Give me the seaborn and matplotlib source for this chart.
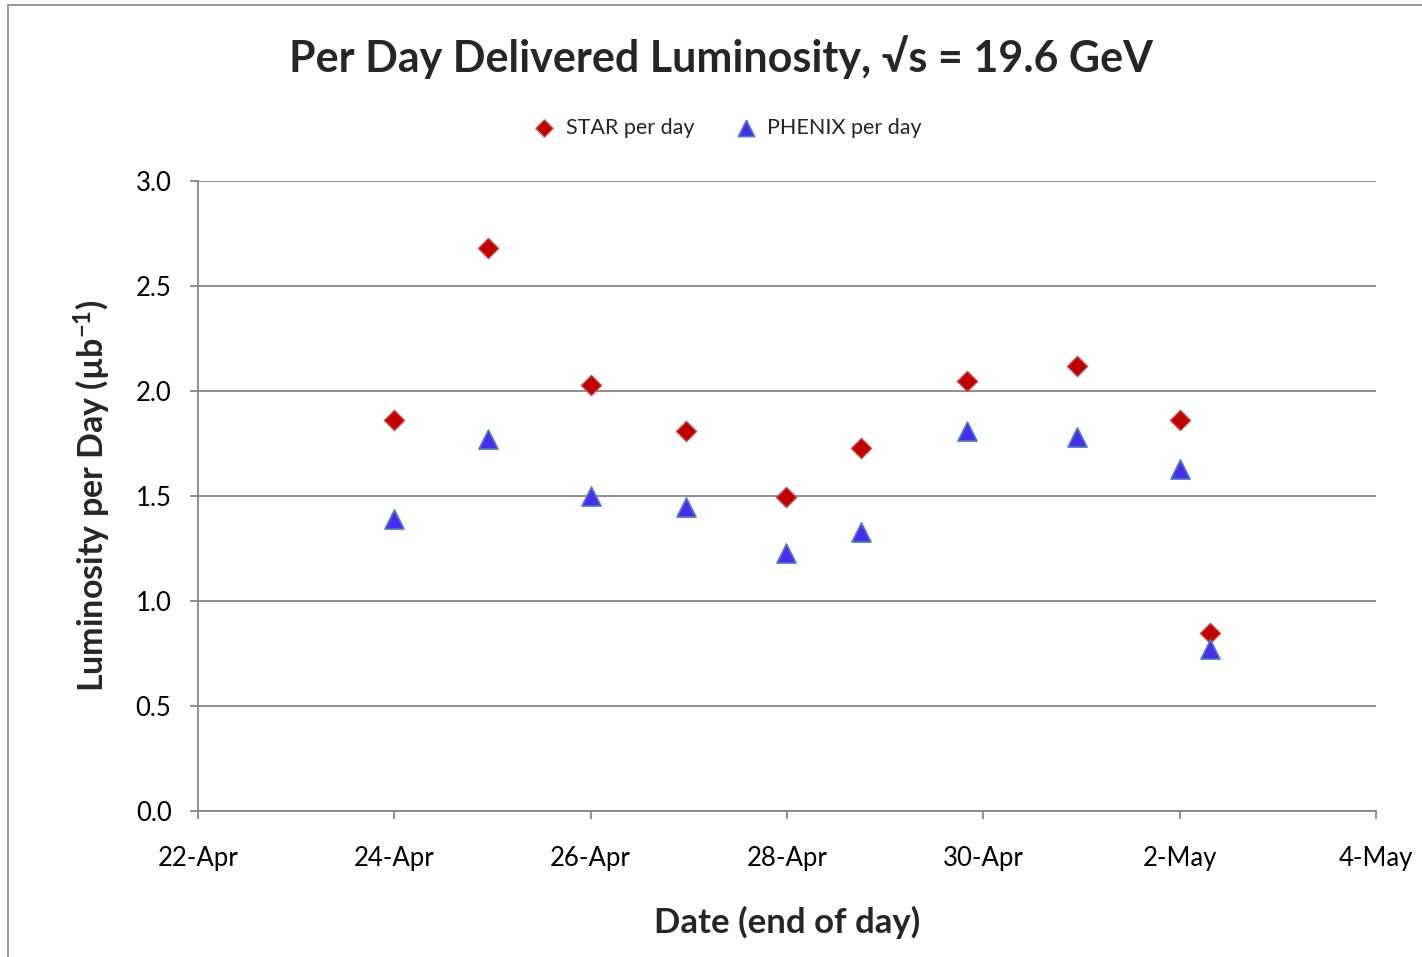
import seaborn as sns
import pandas as pd
import matplotlib.pyplot as plt
import matplotlib.dates as mdates
from matplotlib.patches import Rectangle

# Data (end-of-day timestamps)
dates = ['2011-04-24 00:00', '2011-04-24 23:00', '2011-04-26 00:00', '2011-04-26 23:15',
         '2011-04-27 23:45', '2011-04-28 18:00', '2011-04-29 20:00', '2011-04-30 23:00',
         '2011-05-02 00:00', '2011-05-02 07:30']
star = [1.86, 2.68, 2.03, 1.81, 1.495, 1.73, 2.05, 2.12, 1.86, 0.85]
phenix = [1.39, 1.77, 1.50, 1.45, 1.23, 1.33, 1.81, 1.78, 1.63, 0.77]

df = pd.DataFrame({'date': pd.to_datetime(dates), 'STAR per day': star, 'PHENIX per day': phenix})

sns.set_style('white')
plt.rcParams['font.family'] = ['Lato', 'DejaVu Sans']
plt.rcParams['mathtext.fontset'] = 'custom'
plt.rcParams['mathtext.rm'] = 'Lato:bold'
plt.rcParams['mathtext.default'] = 'regular'

fig = plt.figure(figsize=(14.22, 9.57), dpi=100)
ax = fig.add_axes([198 / 1422, 1 - 811 / 957, (1376 - 198) / 1422, (811 - 181) / 957])

sns.scatterplot(x='date', y='STAR per day', data=df, ax=ax, marker='D', s=105,
                color='#C00000', edgecolor='#C0504D', linewidth=1, label='STAR per day', zorder=3)
sns.scatterplot(x='date', y='PHENIX per day', data=df, ax=ax, marker='^', s=190,
                color='#4A2CEE', edgecolor='#4F81BD', linewidth=1.2, label='PHENIX per day', zorder=3)

# Axes limits and ticks
ax.set_xlim(pd.Timestamp('2011-04-22'), pd.Timestamp('2011-05-04'))
ax.set_ylim(0, 3.0)
ax.set_yticks([0.0, 0.5, 1.0, 1.5, 2.0, 2.5, 3.0])
ax.yaxis.set_major_formatter(plt.FormatStrFormatter('%.1f'))
ax.xaxis.set_major_locator(mdates.DayLocator(interval=2))
ax.xaxis.set_major_formatter(mdates.DateFormatter('%-d-%b'))

ax.grid(axis='y', color='#868686', linewidth=1.3)
ax.set_axisbelow(True)
for side in ['top', 'right']:
    ax.spines[side].set_visible(False)
for side in ['left', 'bottom']:
    ax.spines[side].set_color('#868686')
    ax.spines[side].set_linewidth(1.3)
ax.tick_params(axis='both', direction='out', length=6, width=1.3, color='#868686',
               labelsize=18.5, labelcolor='black', left=True, bottom=True)
ax.tick_params(axis='x', pad=19)
ax.tick_params(axis='y', pad=13)

ax.set_xlabel('Date (end of day)', fontsize=25, fontweight='bold', labelpad=25)
ax.set_ylabel('Luminosity per Day (µb$^{-1}$)', fontsize=24.5, fontweight='bold', labelpad=16)

ax.get_legend().remove()
fig.legend(loc='center', bbox_to_anchor=(0.508, 1 - 128 / 957), ncol=2, frameon=False,
           fontsize=15.5, handletextpad=0.0, columnspacing=1.4, markerscale=0.85)

fig.text(0.507, 1 - 57 / 957, 'Per Day Delivered Luminosity, \u221as = 19.6 GeV',
         ha='center', va='center', fontsize=31, fontweight='bold')

# Chart area border (left and top visible)
fig.patches.append(Rectangle((8 / 1422, -0.1), 1.5, 1 - 5 / 957 + 0.1, transform=fig.transFigure,
                             fill=False, edgecolor='#868686', linewidth=1.2))

fig.savefig('out.png', dpi=100)
